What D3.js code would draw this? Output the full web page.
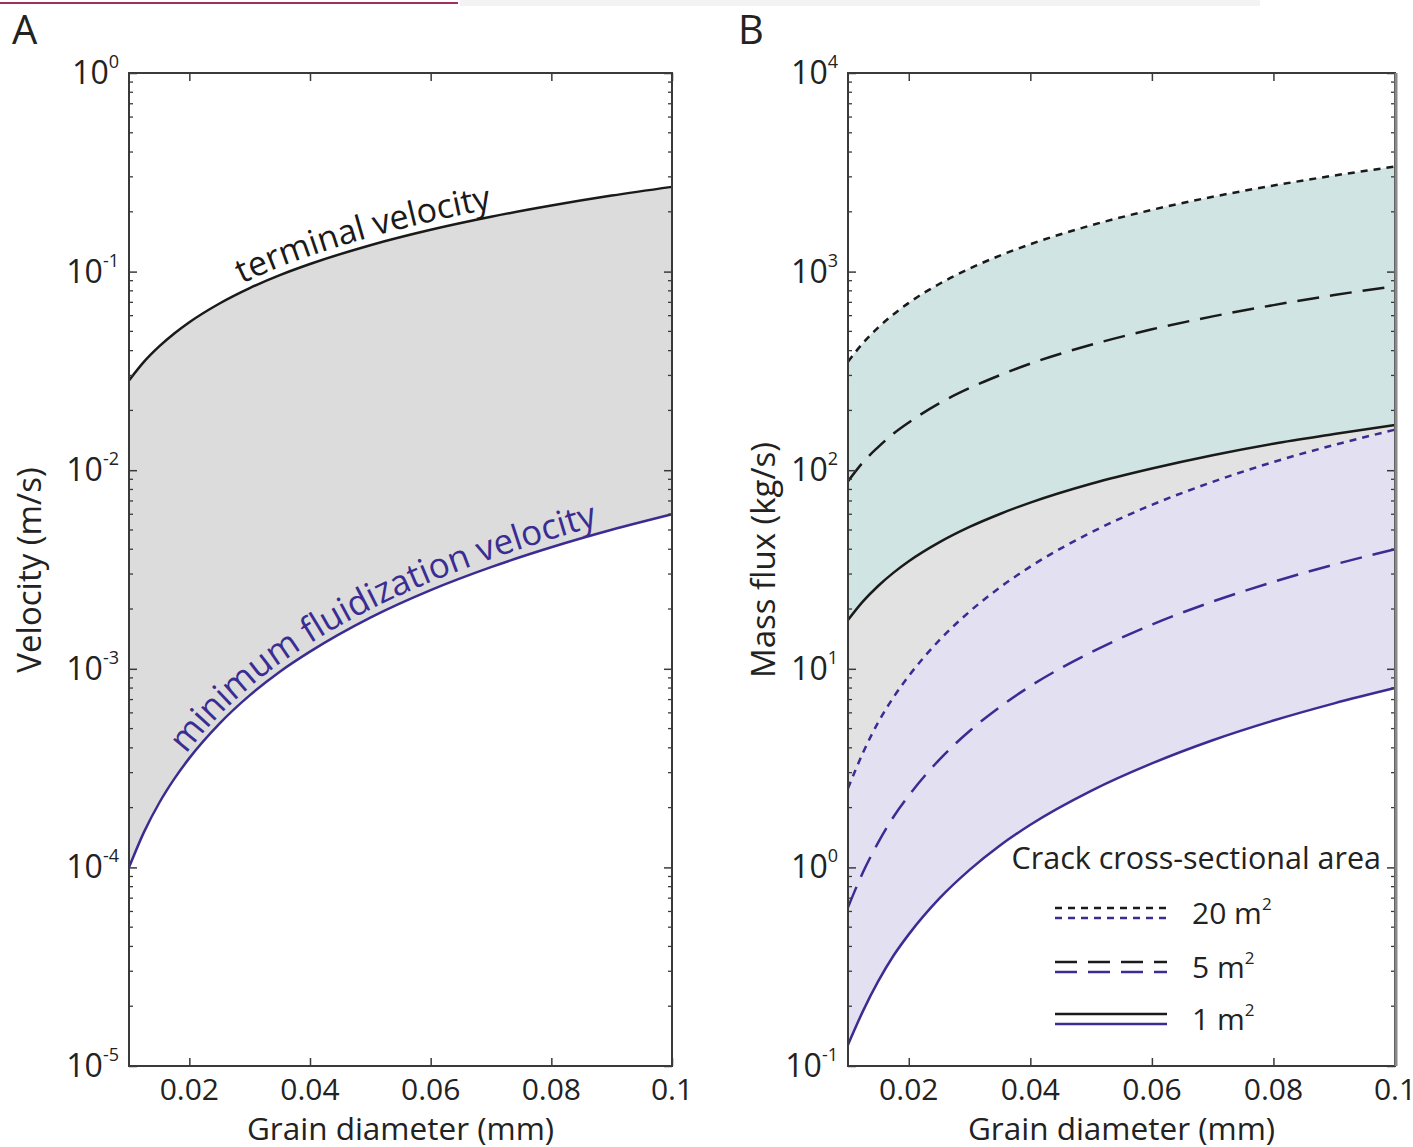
<!DOCTYPE html>
<html>
<head>
<meta charset="utf-8">
<script src="https://cdn.jsdelivr.net/npm/d3@7"></script>
<style>
  html, body { margin: 0; padding: 0; background: #ffffff; }
  svg { display: block; font-family: "Open Sans", "Noto Sans", sans-serif; }
</style>
</head>
<body>
<svg id="chart" width="1413" height="1147"></svg>
<script>
// ---------- data ----------
const grainDiameter = [0.01, 0.0125, 0.015, 0.0175, 0.02, 0.025, 0.03, 0.035, 0.04, 0.05, 0.06, 0.07, 0.08, 0.09, 0.1];

// Panel A: velocities (m/s)
const terminalVelocity = [0.0283, 0.0352, 0.0420, 0.0488, 0.0556, 0.0691, 0.0826, 0.0960, 0.1092, 0.1358, 0.1624, 0.1888, 0.2151, 0.2414, 0.2671];
const minFluidVelocity = [1.0e-4, 1.51e-4, 2.11e-4, 2.79e-4, 3.55e-4, 5.30e-4, 7.35e-4, 9.67e-4, 1.22e-3, 1.81e-3, 2.49e-3, 3.25e-3, 4.09e-3, 5.01e-3, 6.0e-3];

// Panel B: mass flux (kg/s) for crack areas 20, 5, 1 m^2
const fluxTerminal20 = [352, 438, 524, 610, 696, 866, 1036, 1204, 1374, 1710, 2046, 2380, 2712, 3046, 3380];
const fluxTerminal5  = [88, 110, 131, 153, 174, 217, 259, 301, 344, 428, 512, 595, 678, 762, 845];
const fluxTerminal1  = [17.6, 21.9, 26.2, 30.5, 34.8, 43.3, 51.8, 60.2, 68.7, 85.5, 102, 119, 136, 152, 169];
const fluxFluid20 = [2.5, 3.8, 5.4, 7.2, 9.2, 13.9, 19.4, 25.7, 32.7, 48.6, 66.9, 87.3, 110, 134, 160];
const fluxFluid5  = [0.63, 0.95, 1.34, 1.80, 2.30, 3.48, 4.86, 6.43, 8.18, 12.1, 16.7, 21.8, 27.4, 33.5, 40.0];
const fluxFluid1  = [0.128, 0.19, 0.268, 0.36, 0.460, 0.696, 0.972, 1.29, 1.64, 2.43, 3.34, 4.37, 5.49, 6.70, 8.0];

// ticks
const xTicks = [0.02, 0.04, 0.06, 0.08, 0.1];
const xTickLabels = ["0.02", "0.04", "0.06", "0.08", "0.1"];
const yExponentsA = [0, -1, -2, -3, -4, -5];
const yExponentsB = [4, 3, 2, 1, 0, -1];

// legend
const legendTitle = "Crack cross-sectional area";
const legendLabels = ["20 m", "5 m", "1 m"];

// ---------- drawing ----------
const svg = d3.select("#chart");
const defs = svg.append("defs");
const BLACK = "#1a1a1a";
const BLUE = "#3a2c92";
const AXIS = "#3a3a3a";
const TXT = "#222";

// top decorative remnants of the page
svg.append("rect").attr("x", 0).attr("y", 2).attr("width", 458).attr("height", 2).attr("fill", "#a0305e");
svg.append("rect").attr("x", 460).attr("y", 0).attr("width", 800).attr("height", 6).attr("fill", "#f3f3f3");

function makePanel(cfg) {
  const g = svg.append("g");
  const x = d3.scaleLinear().domain([0.01, 0.1]).range([cfg.left, cfg.right]);
  const y = d3.scaleLog().domain(cfg.yDomain).range([cfg.bottom, cfg.top]);
  return {g, x, y, cfg};
}

function drawFrame(p) {
  const {g, x, y, cfg} = p;
  const W = cfg.right - cfg.left, H = cfg.bottom - cfg.top;
  const lo = Math.log10(cfg.yDomain[0]), hi = Math.log10(cfg.yDomain[1]);
  const minor = [];
  for (let e = Math.round(lo); e < Math.round(hi); e++) for (let k = 2; k <= 9; k++) minor.push(k * Math.pow(10, e));
  const minorG = g.append("g");
  minor.forEach(v => {
    minorG.append("line").attr("x1", cfg.left).attr("x2", cfg.left + 4).attr("y1", y(v)).attr("y2", y(v)).attr("stroke", AXIS).attr("stroke-width", 1.3);
    minorG.append("line").attr("x1", cfg.right).attr("x2", cfg.right - 4).attr("y1", y(v)).attr("y2", y(v)).attr("stroke", AXIS).attr("stroke-width", 1.3);
  });
  const majors = cfg.exps.map(e => Math.pow(10, e));
  const yl = g.append("g").attr("transform", `translate(${cfg.left},0)`)
    .call(d3.axisLeft(y).tickValues(majors).tickSize(-8).tickFormat(""));
  const yr = g.append("g").attr("transform", `translate(${cfg.right},0)`)
    .call(d3.axisRight(y).tickValues(majors).tickSize(-8).tickFormat(""));
  const xb = g.append("g").attr("transform", `translate(0,${cfg.bottom})`)
    .call(d3.axisBottom(x).tickValues(xTicks).tickSize(-8).tickFormat(""));
  const xt = g.append("g").attr("transform", `translate(0,${cfg.top})`)
    .call(d3.axisTop(x).tickValues(xTicks).tickSize(-8).tickFormat(""));
  [yl, yr, xb, xt].forEach(a => {
    a.select(".domain").remove();
    a.selectAll(".tick line").attr("stroke", AXIS).attr("stroke-width", 1.5);
  });
  g.append("rect").attr("x", cfg.left).attr("y", cfg.top).attr("width", W).attr("height", H)
    .attr("fill", "none").attr("stroke", AXIS).attr("stroke-width", 2);
  if (cfg.rightEdge) {
    g.append("line").attr("x1", cfg.right + 1).attr("x2", cfg.right + 1).attr("y1", cfg.top).attr("y2", cfg.bottom)
      .attr("stroke", "#8a8a8a").attr("stroke-width", 3);
  }
  xTicks.forEach((v, i) => {
    g.append("text").attr("x", x(v)).attr("y", cfg.bottom + 34).attr("text-anchor", "middle")
      .attr("font-size", 30).attr("fill", TXT).text(xTickLabels[i]);
  });
  cfg.exps.forEach(e => {
    const t = g.append("text").attr("x", cfg.left - 10).attr("y", y(Math.pow(10, e)) + 11)
      .attr("text-anchor", "end").attr("font-size", 32).attr("fill", TXT);
    t.append("tspan").text("10");
    t.append("tspan").attr("font-size", 18).attr("dy", -16).text(e < 0 ? "-" + (-e) : String(e));
  });
  g.append("text").attr("x", (cfg.left + cfg.right) / 2).attr("y", cfg.bottom + 74)
    .attr("text-anchor", "middle").attr("font-size", 31.5).attr("fill", TXT).text("Grain diameter (mm)");
  g.append("text").attr("transform", `translate(${cfg.yTitleX},${cfg.yTitleY}) rotate(-90)`)
    .attr("text-anchor", "middle").attr("font-size", 33).attr("fill", TXT).text(cfg.yTitle);
  g.append("text").attr("x", cfg.letterX).attr("y", 44).attr("font-size", 40).attr("fill", TXT).text(cfg.letter);
}

function lineGen(p, vals, dy = 0) {
  return d3.line()
    .x((d, i) => p.x(grainDiameter[i]))
    .y((d, i) => p.y(vals[i]) + dy)
    .curve(d3.curveMonotoneX)(vals);
}
function areaGen(p, topVals, botVals) {
  return d3.area()
    .x((d, i) => p.x(grainDiameter[i]))
    .y0((d, i) => p.y(botVals[i]))
    .y1((d, i) => p.y(topVals[i]))
    .curve(d3.curveMonotoneX)(topVals);
}

function labelOnCurve(p, id, vals, dy, startX, text, color, size) {
  const path = defs.append("path").attr("id", id).attr("d", lineGen(p, vals, dy));
  const node = path.node();
  const L = node.getTotalLength();
  let a = 0, b = L;
  for (let k = 0; k < 40; k++) { const m = (a + b) / 2; if (node.getPointAtLength(m).x < startX) a = m; else b = m; }
  p.g.append("text").attr("font-size", size).attr("fill", color)
    .append("textPath").attr("href", "#" + id).attr("startOffset", a).text(text);
}

// ----- Panel A -----
const A = makePanel({left: 129, right: 672, top: 73, bottom: 1066, yDomain: [1e-5, 1],
  exps: yExponentsA, yTitle: "Velocity (m/s)", yTitleX: 41, yTitleY: 570, letter: "A", letterX: 12});
A.g.append("path").attr("d", areaGen(A, terminalVelocity, minFluidVelocity)).attr("fill", "#dcdcdc");
A.g.append("path").attr("d", lineGen(A, terminalVelocity)).attr("fill", "none").attr("stroke", BLACK).attr("stroke-width", 2.5);
A.g.append("path").attr("d", lineGen(A, minFluidVelocity)).attr("fill", "none").attr("stroke", BLUE).attr("stroke-width", 2.5);
labelOnCurve(A, "tvPath", terminalVelocity, -8, 242, "terminal velocity", "#1a1a1a", 34);
labelOnCurve(A, "mfPath", minFluidVelocity, -8, 186, "minimum fluidization velocity", BLUE, 35);
drawFrame(A);

// ----- Panel B -----
const B = makePanel({left: 848, right: 1395, top: 73, bottom: 1066, yDomain: [0.1, 1e4],
  exps: yExponentsB, yTitle: "Mass flux (kg/s)", yTitleX: 775, yTitleY: 560, letter: "B", letterX: 738, rightEdge: true});
B.g.append("path").attr("d", areaGen(B, fluxTerminal20, fluxTerminal1)).attr("fill", "#cfe4e3");
B.g.append("path").attr("d", areaGen(B, fluxTerminal1, fluxFluid20)).attr("fill", "#e2e2e2");
B.g.append("path").attr("d", areaGen(B, fluxFluid20, fluxFluid1)).attr("fill", "#e3e0f2");
const styles = [
  {vals: fluxTerminal20, color: BLACK, dash: "7,6"},
  {vals: fluxTerminal5, color: BLACK, dash: "22,11"},
  {vals: fluxTerminal1, color: BLACK, dash: null},
  {vals: fluxFluid20, color: BLUE, dash: "7,6"},
  {vals: fluxFluid5, color: BLUE, dash: "22,11"},
  {vals: fluxFluid1, color: BLUE, dash: null}
];
styles.forEach(s => {
  const pth = B.g.append("path").attr("d", lineGen(B, s.vals)).attr("fill", "none")
    .attr("stroke", s.color).attr("stroke-width", 2.5);
  if (s.dash) pth.attr("stroke-dasharray", s.dash);
});

const lg = B.g.append("g");
lg.append("text").attr("x", 1381).attr("y", 869).attr("text-anchor", "end").attr("font-size", 30.5).attr("fill", TXT).text(legendTitle);
const legendDash = ["7,6", "22,11", null];
const legendY = [908, 962, 1014];
legendY.forEach((ly, i) => {
  [[BLACK, 0], [BLUE, 10]].forEach(([c, off]) => {
    const l = lg.append("line").attr("x1", 1055).attr("x2", 1167).attr("y1", ly + off).attr("y2", ly + off)
      .attr("stroke", c).attr("stroke-width", 2.5);
    if (legendDash[i]) l.attr("stroke-dasharray", legendDash[i]);
  });
  const t = lg.append("text").attr("x", 1192).attr("y", ly + 16).attr("font-size", 30).attr("fill", TXT);
  t.append("tspan").text(legendLabels[i]);
  t.append("tspan").attr("font-size", 17).attr("dy", -14).text("2");
});
drawFrame(B);
</script>
</body>
</html>
